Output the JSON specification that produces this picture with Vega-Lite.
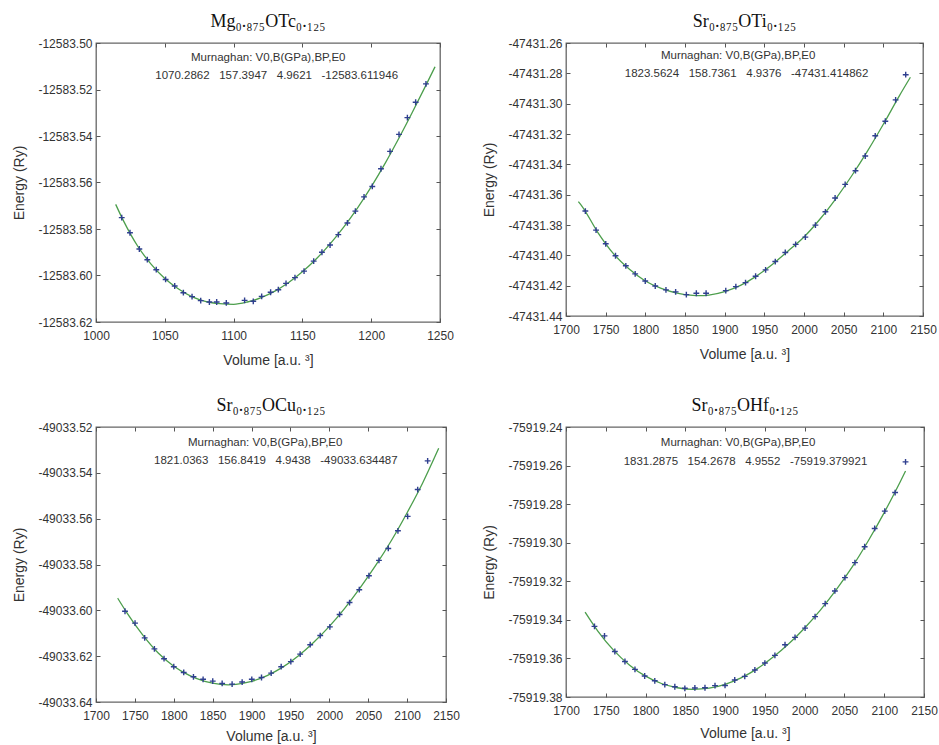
{
  "$schema": "https://vega.github.io/schema/vega-lite/v6.json",
  "background": "white",
  "padding": {"left": 12, "top": 12, "right": 5, "bottom": 2},
  "config": {
    "view": {"stroke": "#666666", "strokeWidth": 1.3},
    "axis": {
      "labelFont": "Liberation Sans", "labelFontSize": 12, "labelColor": "#333333",
      "titleFont": "Liberation Sans", "titleFontSize": 14, "titleFontWeight": "normal", "titleColor": "#333333",
      "grid": false, "domain": false, "tickColor": "#555555", "tickSize": -4, "labelPadding": 8,
      "labelOverlap": false, "labelFlush": false, "labelExpr": "replace(datum.label, '−', '-')"
    },
    "axisX": {"labelPadding": 12, "titlePadding": 12},
    "axisY": {"titlePadding": 11},
    "title": {"font": "Liberation Serif", "fontSize": 18, "fontWeight": "normal", "color": "#111111", "offset": 6},
    "text": {"font": "Liberation Sans", "fontSize": 11.5, "color": "#333333"}
  },
  "datasets": {
    "pts1": [
      {"volume": 1018.7, "energy": -12583.5751}, {"volume": 1024.7, "energy": -12583.5816}, {"volume": 1031.5, "energy": -12583.5886},
      {"volume": 1037.3, "energy": -12583.5932}, {"volume": 1043.8, "energy": -12583.5975}, {"volume": 1050.6, "energy": -12583.6017},
      {"volume": 1057.2, "energy": -12583.6045}, {"volume": 1063.5, "energy": -12583.6074}, {"volume": 1069.8, "energy": -12583.6091},
      {"volume": 1076.1, "energy": -12583.6108}, {"volume": 1082.4, "energy": -12583.6114}, {"volume": 1087.7, "energy": -12583.6114},
      {"volume": 1094.7, "energy": -12583.6118}, {"volume": 1108.0, "energy": -12583.6107}, {"volume": 1114.3, "energy": -12583.6111},
      {"volume": 1120.4, "energy": -12583.6090}, {"volume": 1126.9, "energy": -12583.6072}, {"volume": 1132.5, "energy": -12583.6061},
      {"volume": 1138.1, "energy": -12583.6034}, {"volume": 1144.6, "energy": -12583.6009}, {"volume": 1151.2, "energy": -12583.5981},
      {"volume": 1158.2, "energy": -12583.5938}, {"volume": 1164.2, "energy": -12583.5900}, {"volume": 1170.1, "energy": -12583.5869},
      {"volume": 1176.1, "energy": -12583.5824}, {"volume": 1182.7, "energy": -12583.5774}, {"volume": 1188.5, "energy": -12583.5723},
      {"volume": 1194.8, "energy": -12583.5662}, {"volume": 1200.8, "energy": -12583.5617}, {"volume": 1207.1, "energy": -12583.5541},
      {"volume": 1213.7, "energy": -12583.5466}, {"volume": 1220.2, "energy": -12583.5393}, {"volume": 1226.3, "energy": -12583.5321},
      {"volume": 1232.3, "energy": -12583.5255}, {"volume": 1239.8, "energy": -12583.5176}
    ],
    "fit1": [
      {"volume": 1014.3, "energy": -12583.5694}, {"volume": 1020, "energy": -12583.5765}, {"volume": 1030, "energy": -12583.5871},
      {"volume": 1040, "energy": -12583.5951}, {"volume": 1050, "energy": -12583.6013}, {"volume": 1060, "energy": -12583.6058},
      {"volume": 1070, "energy": -12583.6092}, {"volume": 1080, "energy": -12583.6112}, {"volume": 1090, "energy": -12583.6121},
      {"volume": 1100, "energy": -12583.6124}, {"volume": 1110, "energy": -12583.6114}, {"volume": 1120, "energy": -12583.6095},
      {"volume": 1130, "energy": -12583.6067}, {"volume": 1140, "energy": -12583.6030}, {"volume": 1150, "energy": -12583.5984},
      {"volume": 1160, "energy": -12583.5929}, {"volume": 1170, "energy": -12583.5865}, {"volume": 1180, "energy": -12583.5792},
      {"volume": 1190, "energy": -12583.5710}, {"volume": 1200, "energy": -12583.5619}, {"volume": 1210, "energy": -12583.5519},
      {"volume": 1220, "energy": -12583.5411}, {"volume": 1230, "energy": -12583.5297}, {"volume": 1240, "energy": -12583.5179},
      {"volume": 1246.4, "energy": -12583.5102}
    ],
    "pts2": [
      {"volume": 1724.4, "energy": -47431.3708}, {"volume": 1737.9, "energy": -47431.3834}, {"volume": 1750.1, "energy": -47431.3924},
      {"volume": 1762.4, "energy": -47431.4003}, {"volume": 1775.4, "energy": -47431.4069}, {"volume": 1787.2, "energy": -47431.4122},
      {"volume": 1799.9, "energy": -47431.4169}, {"volume": 1812.5, "energy": -47431.4202}, {"volume": 1826.0, "energy": -47431.4228},
      {"volume": 1838.2, "energy": -47431.4241}, {"volume": 1851.7, "energy": -47431.4259}, {"volume": 1864.3, "energy": -47431.4250},
      {"volume": 1876.6, "energy": -47431.4250}, {"volume": 1901.4, "energy": -47431.4233}, {"volume": 1914.1, "energy": -47431.4206},
      {"volume": 1926.3, "energy": -47431.4180}, {"volume": 1939.0, "energy": -47431.4138}, {"volume": 1951.6, "energy": -47431.4096},
      {"volume": 1963.8, "energy": -47431.4041}, {"volume": 1976.4, "energy": -47431.3981}, {"volume": 1989.5, "energy": -47431.3928},
      {"volume": 2001.7, "energy": -47431.3880}, {"volume": 2014.4, "energy": -47431.3801}, {"volume": 2027.0, "energy": -47431.3713},
      {"volume": 2039.2, "energy": -47431.3622}, {"volume": 2051.9, "energy": -47431.3532}, {"volume": 2064.9, "energy": -47431.3442},
      {"volume": 2077.2, "energy": -47431.3345}, {"volume": 2089.8, "energy": -47431.3212}, {"volume": 2102.5, "energy": -47431.3116},
      {"volume": 2115.5, "energy": -47431.2975}, {"volume": 2128.2, "energy": -47431.2809}
    ],
    "fit2": [
      {"volume": 1715.6, "energy": -47431.3646}, {"volume": 1720, "energy": -47431.3675}, {"volume": 1740, "energy": -47431.3848},
      {"volume": 1760, "energy": -47431.3990}, {"volume": 1780, "energy": -47431.4092}, {"volume": 1800, "energy": -47431.4169},
      {"volume": 1820, "energy": -47431.4218}, {"volume": 1840, "energy": -47431.4249}, {"volume": 1860, "energy": -47431.4264},
      {"volume": 1868, "energy": -47431.4266}, {"volume": 1880, "energy": -47431.4262}, {"volume": 1900, "energy": -47431.4239},
      {"volume": 1920, "energy": -47431.4198}, {"volume": 1940, "energy": -47431.4137}, {"volume": 1960, "energy": -47431.4060},
      {"volume": 1980, "energy": -47431.3971}, {"volume": 2000, "energy": -47431.3879}, {"volume": 2020, "energy": -47431.3762},
      {"volume": 2040, "energy": -47431.3627}, {"volume": 2060, "energy": -47431.3477}, {"volume": 2080, "energy": -47431.3313},
      {"volume": 2100, "energy": -47431.3136}, {"volume": 2120, "energy": -47431.2950}, {"volume": 2134.1, "energy": -47431.2826}
    ],
    "pts3": [
      {"volume": 1737.3, "energy": -49033.6004}, {"volume": 1750.2, "energy": -49033.6056}, {"volume": 1762.6, "energy": -49033.6120},
      {"volume": 1775.1, "energy": -49033.6168}, {"volume": 1787.5, "energy": -49033.6211}, {"volume": 1800.0, "energy": -49033.6246},
      {"volume": 1812.8, "energy": -49033.6271}, {"volume": 1825.3, "energy": -49033.6290}, {"volume": 1837.7, "energy": -49033.6301},
      {"volume": 1850.1, "energy": -49033.6309}, {"volume": 1862.2, "energy": -49033.6319}, {"volume": 1875.0, "energy": -49033.6322},
      {"volume": 1887.9, "energy": -49033.6313}, {"volume": 1900.3, "energy": -49033.6301}, {"volume": 1912.8, "energy": -49033.6293},
      {"volume": 1925.2, "energy": -49033.6274}, {"volume": 1938.1, "energy": -49033.6246}, {"volume": 1950.5, "energy": -49033.6224},
      {"volume": 1962.5, "energy": -49033.6191}, {"volume": 1975.4, "energy": -49033.6150}, {"volume": 1988.3, "energy": -49033.6110},
      {"volume": 2000.7, "energy": -49033.6072}, {"volume": 2013.2, "energy": -49033.6018}, {"volume": 2026.0, "energy": -49033.5966},
      {"volume": 2038.5, "energy": -49033.5910}, {"volume": 2050.9, "energy": -49033.5849}, {"volume": 2063.8, "energy": -49033.5782},
      {"volume": 2075.8, "energy": -49033.5730}, {"volume": 2088.2, "energy": -49033.5653}, {"volume": 2100.7, "energy": -49033.5590},
      {"volume": 2113.6, "energy": -49033.5473}, {"volume": 2126.4, "energy": -49033.5348}
    ],
    "fit3": [
      {"volume": 1727.9, "energy": -49033.5947}, {"volume": 1740, "energy": -49033.6012}, {"volume": 1760, "energy": -49033.6107},
      {"volume": 1780, "energy": -49033.6186}, {"volume": 1800, "energy": -49033.6244}, {"volume": 1820, "energy": -49033.6284},
      {"volume": 1840, "energy": -49033.6310}, {"volume": 1860, "energy": -49033.6323}, {"volume": 1870, "energy": -49033.6325},
      {"volume": 1880, "energy": -49033.6323}, {"volume": 1900, "energy": -49033.6310}, {"volume": 1920, "energy": -49033.6285},
      {"volume": 1940, "energy": -49033.6248}, {"volume": 1960, "energy": -49033.6199}, {"volume": 1980, "energy": -49033.6139},
      {"volume": 2000, "energy": -49033.6070}, {"volume": 2020, "energy": -49033.5990}, {"volume": 2040, "energy": -49033.5900},
      {"volume": 2060, "energy": -49033.5802}, {"volume": 2080, "energy": -49033.5694}, {"volume": 2100, "energy": -49033.5574},
      {"volume": 2120, "energy": -49033.5444}, {"volume": 2140.6, "energy": -49033.5293}
    ],
    "pts4": [
      {"volume": 1735.8, "energy": -75919.3434}, {"volume": 1748.4, "energy": -75919.3483}, {"volume": 1761.4, "energy": -75919.3564},
      {"volume": 1774.1, "energy": -75919.3616}, {"volume": 1786.7, "energy": -75919.3657}, {"volume": 1798.9, "energy": -75919.3691},
      {"volume": 1811.6, "energy": -75919.3716}, {"volume": 1824.2, "energy": -75919.3736}, {"volume": 1836.8, "energy": -75919.3747},
      {"volume": 1849.4, "energy": -75919.3755}, {"volume": 1862.0, "energy": -75919.3753}, {"volume": 1874.7, "energy": -75919.3752},
      {"volume": 1887.3, "energy": -75919.3741}, {"volume": 1899.9, "energy": -75919.3740}, {"volume": 1912.1, "energy": -75919.3712},
      {"volume": 1924.7, "energy": -75919.3693}, {"volume": 1937.4, "energy": -75919.3660}, {"volume": 1950.0, "energy": -75919.3624},
      {"volume": 1962.6, "energy": -75919.3584}, {"volume": 1975.3, "energy": -75919.3529}, {"volume": 1987.9, "energy": -75919.3491},
      {"volume": 2000.5, "energy": -75919.3443}, {"volume": 2013.1, "energy": -75919.3383}, {"volume": 2025.8, "energy": -75919.3316},
      {"volume": 2038.0, "energy": -75919.3250}, {"volume": 2050.6, "energy": -75919.3181}, {"volume": 2063.2, "energy": -75919.3103},
      {"volume": 2075.4, "energy": -75919.3021}, {"volume": 2088.0, "energy": -75919.2926}, {"volume": 2100.7, "energy": -75919.2836},
      {"volume": 2113.7, "energy": -75919.2740}, {"volume": 2126.8, "energy": -75919.2581}
    ],
    "fit4": [
      {"volume": 1724, "energy": -75919.3360}, {"volume": 1740, "energy": -75919.3458}, {"volume": 1760, "energy": -75919.3558},
      {"volume": 1780, "energy": -75919.3635}, {"volume": 1800, "energy": -75919.3692}, {"volume": 1820, "energy": -75919.3730},
      {"volume": 1840, "energy": -75919.3752}, {"volume": 1860, "energy": -75919.3760}, {"volume": 1880, "energy": -75919.3754},
      {"volume": 1900, "energy": -75919.3734}, {"volume": 1920, "energy": -75919.3701}, {"volume": 1940, "energy": -75919.3654},
      {"volume": 1960, "energy": -75919.3594}, {"volume": 1980, "energy": -75919.3524}, {"volume": 2000, "energy": -75919.3442},
      {"volume": 2020, "energy": -75919.3348}, {"volume": 2040, "energy": -75919.3242}, {"volume": 2060, "energy": -75919.3124},
      {"volume": 2080, "energy": -75919.2990}, {"volume": 2100, "energy": -75919.2844}, {"volume": 2120, "energy": -75919.2685},
      {"volume": 2126.8, "energy": -75919.2628}
    ]
  },
  "columns": 2,
  "spacing": {"column": 22, "row": 28},
  "concat": [
    {
      "width": 344, "height": 279,
      "title": {"text": "Mg₀.₈₇₅OTc₀.₁₂₅"},
      "resolve": {"axis": {"x": "independent", "y": "independent"}},
      "layer": [
        {
          "data": {"name": "fit1"},
          "mark": {"type": "line", "color": "#4c9e4c", "strokeWidth": 1.3, "interpolate": "monotone", "clip": true},
          "encoding": {
            "x": {"field": "volume", "type": "quantitative", "scale": {"domain": [1000, 1250], "nice": false, "zero": false},
                  "axis": {"values": [1000, 1050, 1100, 1150, 1200, 1250], "tickCount": 30, "format": "d", "title": "Volume [a.u. ³]"}},
            "y": {"field": "energy", "type": "quantitative", "scale": {"domain": [-12583.62, -12583.50], "nice": false, "zero": false},
                  "axis": {"values": [-12583.62, -12583.60, -12583.58, -12583.56, -12583.54, -12583.52, -12583.50], "tickCount": 30, "format": ".2f", "title": "Energy (Ry)"}}
          }
        },
        {
          "data": {"name": "pts1"},
          "mark": {"type": "point", "shape": "M-1,0H1M0,-1V1", "filled": false, "size": 34, "strokeWidth": 1.4, "color": "#2f3f8f", "opacity": 1},
          "encoding": {
            "x": {"field": "volume", "type": "quantitative", "axis": {"orient": "top", "values": [1000, 1050, 1100, 1150, 1200, 1250], "tickCount": 30, "labels": false, "title": null}},
            "y": {"field": "energy", "type": "quantitative", "axis": {"orient": "right", "values": [-12583.62, -12583.60, -12583.58, -12583.56, -12583.54, -12583.52, -12583.50], "tickCount": 30, "labels": false, "title": null}}
          }
        },
        {
          "data": {"values": [{"label": "Murnaghan: V0,B(GPa),BP,E0"}]},
          "mark": {"type": "text", "baseline": "middle", "align": "center"},
          "encoding": {"x": {"datum": 1125.2, "type": "quantitative", "axis": null}, "y": {"datum": -12583.5063, "type": "quantitative", "axis": null}, "text": {"field": "label"}}
        },
        {
          "data": {"values": [{"label": "1070.2862\u00a0\u00a0\u00a0157.3947\u00a0\u00a0\u00a04.9621\u00a0\u00a0\u00a0-12583.611946"}]},
          "mark": {"type": "text", "baseline": "middle", "align": "center"},
          "encoding": {"x": {"datum": 1131.3, "type": "quantitative", "axis": null}, "y": {"datum": -12583.5142, "type": "quantitative", "axis": null}, "text": {"field": "label"}}
        }
      ]
    },
    {
      "width": 357, "height": 273,
      "title": {"text": "Sr₀.₈₇₅OTi₀.₁₂₅"},
      "resolve": {"axis": {"x": "independent", "y": "independent"}},
      "layer": [
        {
          "data": {"name": "fit2"},
          "mark": {"type": "line", "color": "#4c9e4c", "strokeWidth": 1.3, "interpolate": "monotone", "clip": true},
          "encoding": {
            "x": {"field": "volume", "type": "quantitative", "scale": {"domain": [1700, 2150], "nice": false, "zero": false},
                  "axis": {"values": [1700, 1750, 1800, 1850, 1900, 1950, 2000, 2050, 2100, 2150], "tickCount": 30, "format": "d", "title": "Volume [a.u. ³]"}},
            "y": {"field": "energy", "type": "quantitative", "scale": {"domain": [-47431.44, -47431.26], "nice": false, "zero": false},
                  "axis": {"values": [-47431.44, -47431.42, -47431.40, -47431.38, -47431.36, -47431.34, -47431.32, -47431.30, -47431.28, -47431.26], "tickCount": 30, "format": ".2f", "title": "Energy (Ry)"}}
          }
        },
        {
          "data": {"name": "pts2"},
          "mark": {"type": "point", "shape": "M-1,0H1M0,-1V1", "filled": false, "size": 34, "strokeWidth": 1.4, "color": "#2f3f8f", "opacity": 1},
          "encoding": {
            "x": {"field": "volume", "type": "quantitative", "axis": {"orient": "top", "values": [1700, 1750, 1800, 1850, 1900, 1950, 2000, 2050, 2100, 2150], "tickCount": 30, "labels": false, "title": null}},
            "y": {"field": "energy", "type": "quantitative", "axis": {"orient": "right", "values": [-47431.44, -47431.42, -47431.40, -47431.38, -47431.36, -47431.34, -47431.32, -47431.30, -47431.28, -47431.26], "tickCount": 30, "labels": false, "title": null}}
          }
        },
        {
          "data": {"values": [{"label": "Murnaghan: V0,B(GPa),BP,E0"}]},
          "mark": {"type": "text", "baseline": "middle", "align": "center"},
          "encoding": {"x": {"datum": 1917, "type": "quantitative", "axis": null}, "y": {"datum": -47431.2686, "type": "quantitative", "axis": null}, "text": {"field": "label"}}
        },
        {
          "data": {"values": [{"label": "1823.5624\u00a0\u00a0\u00a0158.7361\u00a0\u00a0\u00a04.9376\u00a0\u00a0\u00a0-47431.414862"}]},
          "mark": {"type": "text", "baseline": "middle", "align": "center"},
          "encoding": {"x": {"datum": 1927.6, "type": "quantitative", "axis": null}, "y": {"datum": -47431.2807, "type": "quantitative", "axis": null}, "text": {"field": "label"}}
        }
      ]
    },
    {
      "width": 350, "height": 275,
      "title": {"text": "Sr₀.₈₇₅OCu₀.₁₂₅"},
      "resolve": {"axis": {"x": "independent", "y": "independent"}},
      "layer": [
        {
          "data": {"name": "fit3"},
          "mark": {"type": "line", "color": "#4c9e4c", "strokeWidth": 1.3, "interpolate": "monotone", "clip": true},
          "encoding": {
            "x": {"field": "volume", "type": "quantitative", "scale": {"domain": [1700, 2150], "nice": false, "zero": false},
                  "axis": {"values": [1700, 1750, 1800, 1850, 1900, 1950, 2000, 2050, 2100, 2150], "tickCount": 30, "format": "d", "title": "Volume [a.u. ³]", "titlePadding": 8}},
            "y": {"field": "energy", "type": "quantitative", "scale": {"domain": [-49033.64, -49033.52], "nice": false, "zero": false},
                  "axis": {"values": [-49033.64, -49033.62, -49033.60, -49033.58, -49033.56, -49033.54, -49033.52], "tickCount": 30, "format": ".2f", "title": "Energy (Ry)"}}
          }
        },
        {
          "data": {"name": "pts3"},
          "mark": {"type": "point", "shape": "M-1,0H1M0,-1V1", "filled": false, "size": 34, "strokeWidth": 1.4, "color": "#2f3f8f", "opacity": 1},
          "encoding": {
            "x": {"field": "volume", "type": "quantitative", "axis": {"orient": "top", "values": [1700, 1750, 1800, 1850, 1900, 1950, 2000, 2050, 2100, 2150], "tickCount": 30, "labels": false, "title": null}},
            "y": {"field": "energy", "type": "quantitative", "axis": {"orient": "right", "values": [-49033.64, -49033.62, -49033.60, -49033.58, -49033.56, -49033.54, -49033.52], "tickCount": 30, "labels": false, "title": null}}
          }
        },
        {
          "data": {"values": [{"label": "Murnaghan: V0,B(GPa),BP,E0"}]},
          "mark": {"type": "text", "baseline": "middle", "align": "center"},
          "encoding": {"x": {"datum": 1917.5, "type": "quantitative", "axis": null}, "y": {"datum": -49033.5268, "type": "quantitative", "axis": null}, "text": {"field": "label"}}
        },
        {
          "data": {"values": [{"label": "1821.0363\u00a0\u00a0\u00a0156.8419\u00a0\u00a0\u00a04.9438\u00a0\u00a0\u00a0-49033.634487"}]},
          "mark": {"type": "text", "baseline": "middle", "align": "center"},
          "encoding": {"x": {"datum": 1931.2, "type": "quantitative", "axis": null}, "y": {"datum": -49033.5349, "type": "quantitative", "axis": null}, "text": {"field": "label"}}
        }
      ]
    },
    {
      "width": 358, "height": 270,
      "title": {"text": "Sr₀.₈₇₅OHf₀.₁₂₅"},
      "resolve": {"axis": {"x": "independent", "y": "independent"}},
      "layer": [
        {
          "data": {"name": "fit4"},
          "mark": {"type": "line", "color": "#4c9e4c", "strokeWidth": 1.3, "interpolate": "monotone", "clip": true},
          "encoding": {
            "x": {"field": "volume", "type": "quantitative", "scale": {"domain": [1700, 2150], "nice": false, "zero": false},
                  "axis": {"values": [1700, 1750, 1800, 1850, 1900, 1950, 2000, 2050, 2100, 2150], "tickCount": 30, "format": "d", "title": "Volume [a.u. ³]", "titlePadding": 10}},
            "y": {"field": "energy", "type": "quantitative", "scale": {"domain": [-75919.38, -75919.24], "nice": false, "zero": false},
                  "axis": {"values": [-75919.38, -75919.36, -75919.34, -75919.32, -75919.30, -75919.28, -75919.26, -75919.24], "tickCount": 30, "format": ".2f", "title": "Energy (Ry)"}}
          }
        },
        {
          "data": {"name": "pts4"},
          "mark": {"type": "point", "shape": "M-1,0H1M0,-1V1", "filled": false, "size": 34, "strokeWidth": 1.4, "color": "#2f3f8f", "opacity": 1},
          "encoding": {
            "x": {"field": "volume", "type": "quantitative", "axis": {"orient": "top", "values": [1700, 1750, 1800, 1850, 1900, 1950, 2000, 2050, 2100, 2150], "tickCount": 30, "labels": false, "title": null}},
            "y": {"field": "energy", "type": "quantitative", "axis": {"orient": "right", "values": [-75919.38, -75919.36, -75919.34, -75919.32, -75919.30, -75919.28, -75919.26, -75919.24], "tickCount": 30, "labels": false, "title": null}}
          }
        },
        {
          "data": {"values": [{"label": "Murnaghan: V0,B(GPa),BP,E0"}]},
          "mark": {"type": "text", "baseline": "middle", "align": "center"},
          "encoding": {"x": {"datum": 1916.3, "type": "quantitative", "axis": null}, "y": {"datum": -75919.2483, "type": "quantitative", "axis": null}, "text": {"field": "label"}}
        },
        {
          "data": {"values": [{"label": "1831.2875\u00a0\u00a0\u00a0154.2678\u00a0\u00a0\u00a04.9552\u00a0\u00a0\u00a0-75919.379921"}]},
          "mark": {"type": "text", "baseline": "middle", "align": "center"},
          "encoding": {"x": {"datum": 1925.6, "type": "quantitative", "axis": null}, "y": {"datum": -75919.2584, "type": "quantitative", "axis": null}, "text": {"field": "label"}}
        }
      ]
    }
  ]
}
